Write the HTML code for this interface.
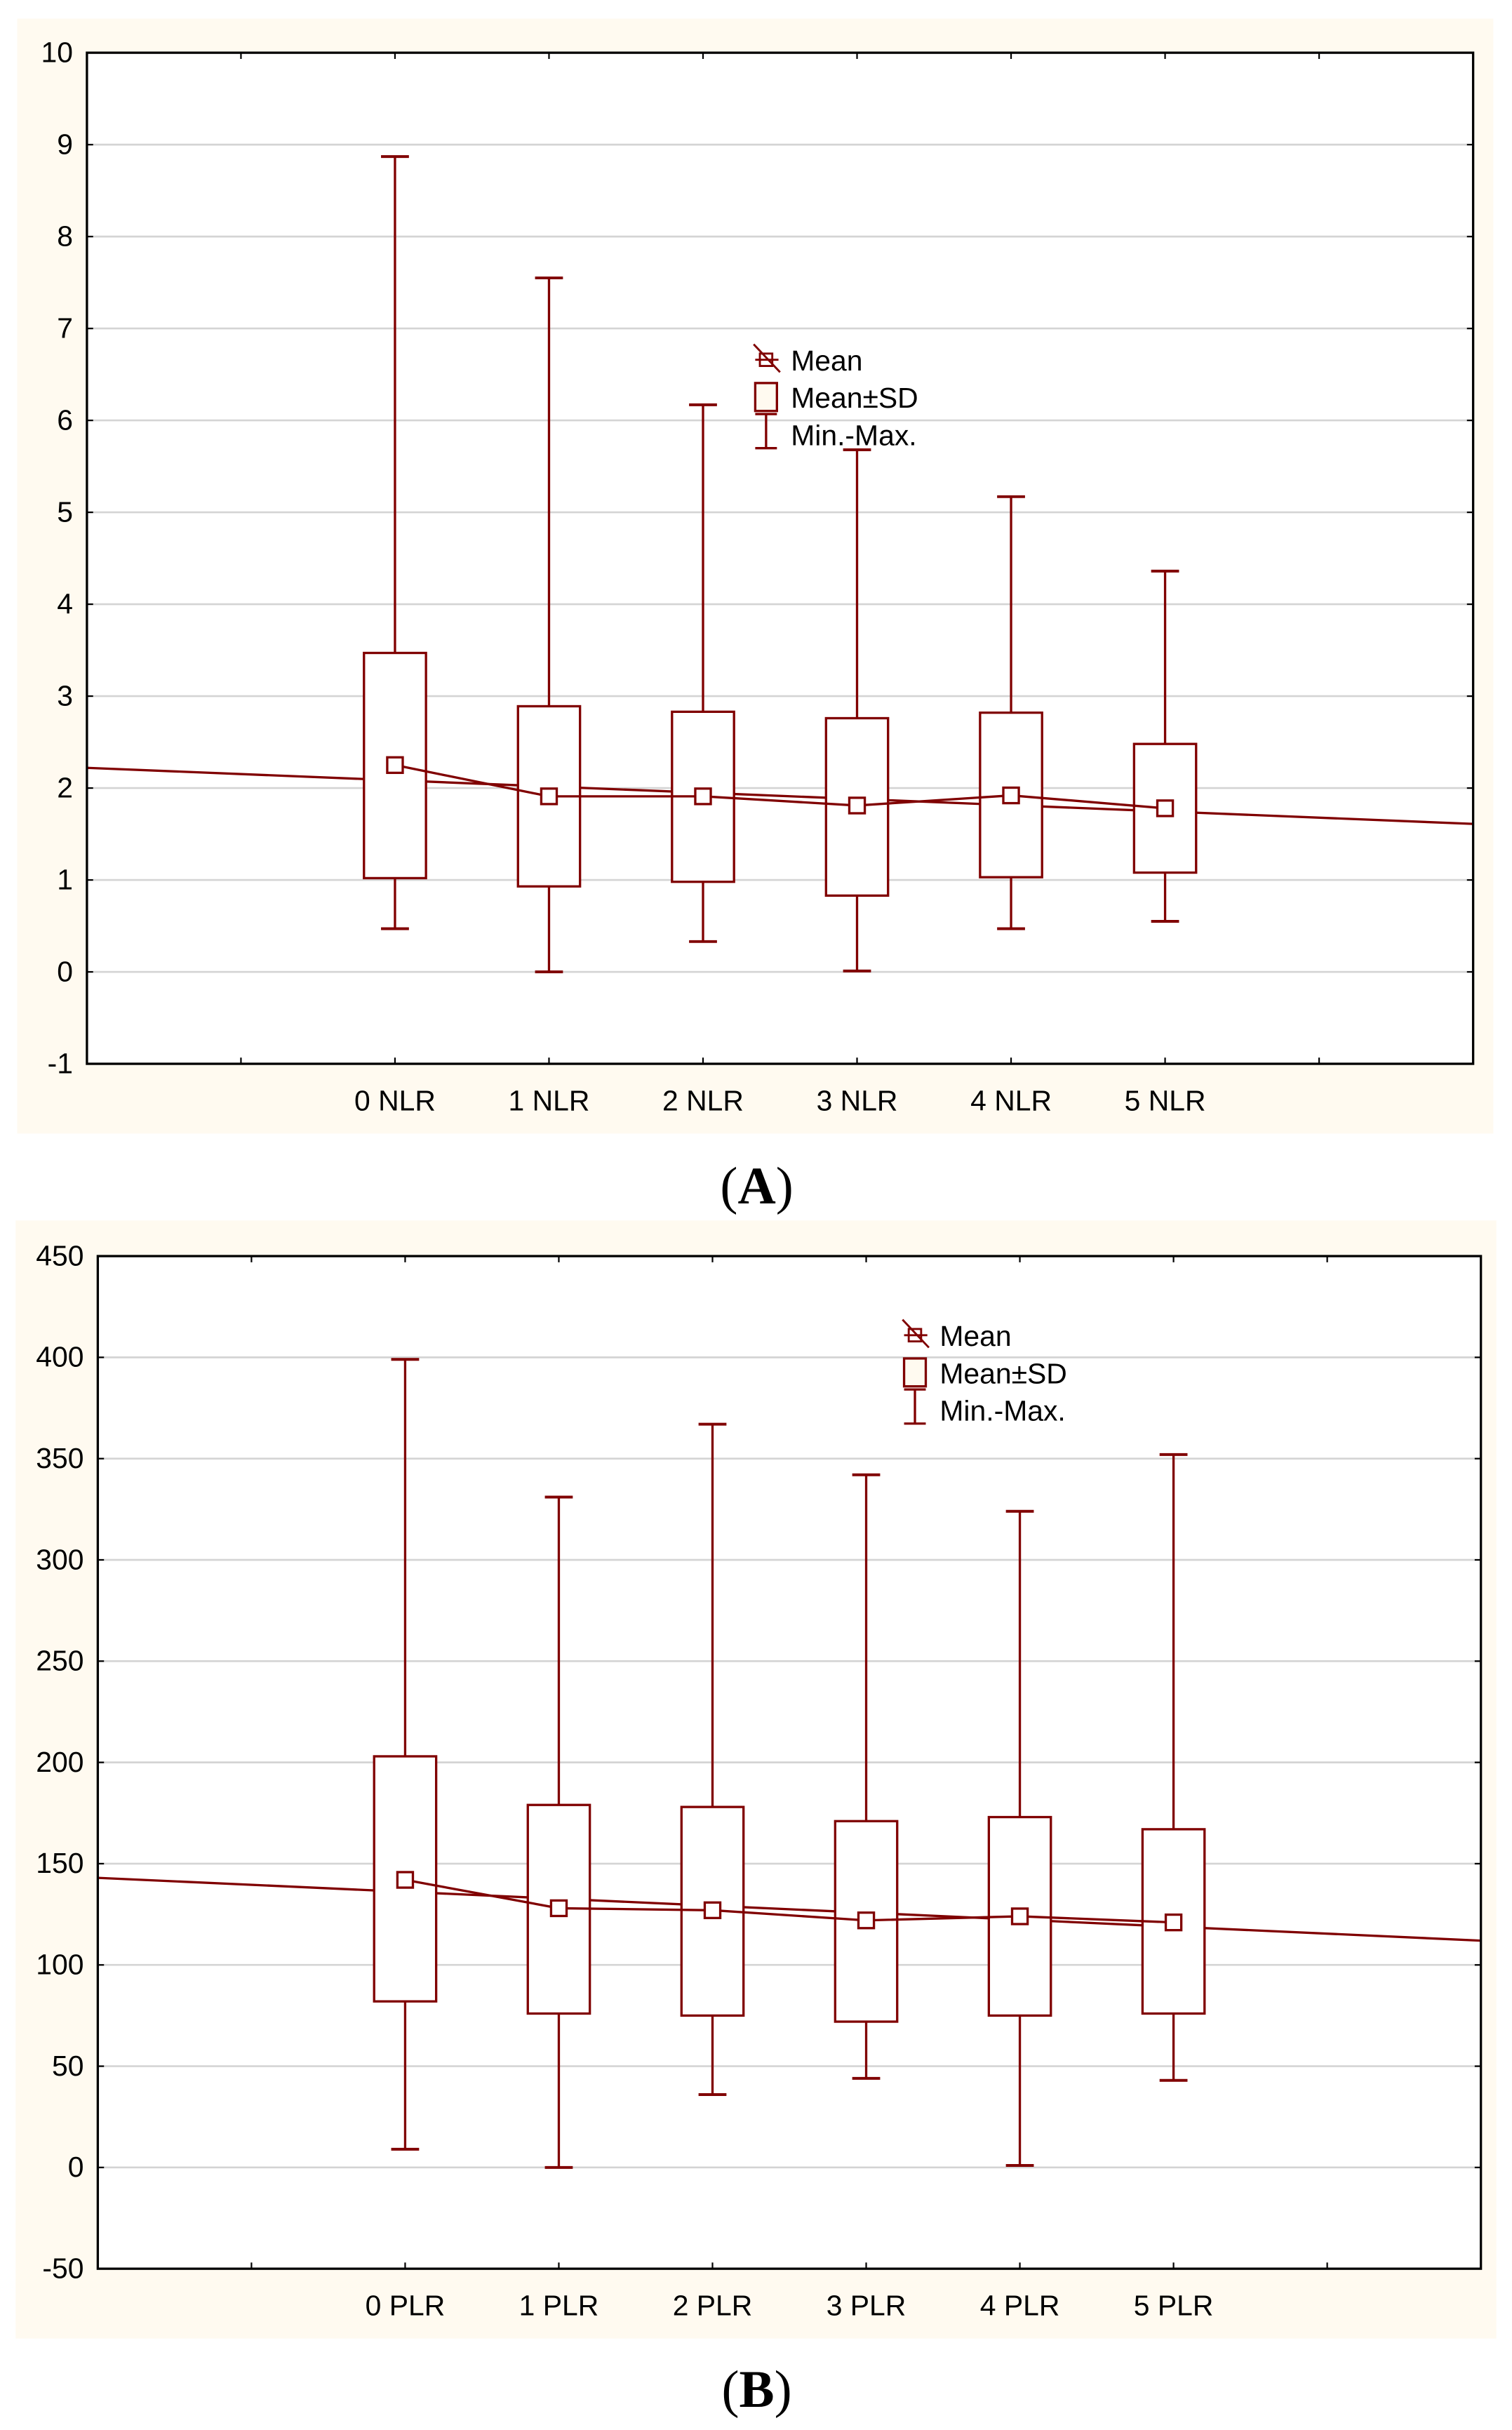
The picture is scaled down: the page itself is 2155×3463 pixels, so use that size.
<!DOCTYPE html>
<html><head><meta charset="utf-8"><style>
html,body{margin:0;padding:0;background:#fff;}
svg{display:block;}
text{font-family:"Liberation Sans",Arial,sans-serif;}
</style></head><body>
<svg id="fig" width="2155" height="3463" viewBox="0 0 975 1567" xmlns="http://www.w3.org/2000/svg"></svg>
<script>
// Chart A data (NLR)
const catsA = ["0 NLR","1 NLR","2 NLR","3 NLR","4 NLR","5 NLR"];
const maxA = [8.87,7.55,6.17,5.68,5.17,4.36];
const minA = [0.47,0.0,0.33,0.01,0.47,0.55];
const upA = [3.47,2.89,2.83,2.76,2.82,2.48];
const loA = [1.02,0.93,0.98,0.83,1.03,1.08];
const meanA = [2.25,1.91,1.91,1.81,1.92,1.78];
const regA = [2.22,1.61];
const ticksA = [10,9,8,7,6,5,4,3,2,1,0,-1];
// Chart B data (PLR)
const catsB = ["0 PLR","1 PLR","2 PLR","3 PLR","4 PLR","5 PLR"];
const maxB = [399,331,367,342,324,352];
const minB = [9,0,36,44,1,43];
const upB = [203,179,178,171,173,167];
const loB = [82,76,75,72,75,76];
const meanB = [142,128,127,122,124,121];
const regB = [143,112];
const ticksB = [450,400,350,300,250,200,150,100,50,0,-50];

const NS="http://www.w3.org/2000/svg";
const svg=document.getElementById('fig');
const RED="#800000";
const FS=18.5;
function mk(tag,attrs,parent){const e=document.createElementNS(NS,tag);for(const k in attrs)e.setAttribute(k,attrs[k]);(parent||svg).appendChild(e);return e;}

function chart(o){
  const g=mk('g',{});
  
  
  const bg=mk('rect',{x:o.px,y:o.py,width:o.pw,height:o.ph,fill:'#fffaf0'},g);
  
  
  const L=o.L,R=o.R,T=o.T,B=o.B;
  const ymin=o.ticks[o.ticks.length-1],ymax=o.ticks[0];
  const y=v=>B-(v-ymin)/(ymax-ymin)*(B-T);
  const x=i=>L+(i+2)/9*(R-L);
  mk('rect',{x:L,y:T,width:R-L,height:B-T,fill:'#fff'},g);
  o.ticks.forEach(t=>{
    if(t!==ymin&&t!==ymax){const gl=mk('line',{x1:L,x2:R,y1:y(t),y2:y(t),stroke:'#d4d4d4','stroke-width':1.2},g);
      }
    mk('line',{x1:L,x2:L+4,y1:y(t),y2:y(t),stroke:'#000','stroke-width':1},g);
    mk('line',{x1:R,x2:R-4,y1:y(t),y2:y(t),stroke:'#000','stroke-width':1},g);
    const tl=mk('text',{x:L-9,y:y(t)+6,'text-anchor':'end','font-size':FS,fill:'#000'},g);
    tl.textContent=t;
    
  });
  for(let i=-1;i<=6;i++){mk('line',{x1:x(i),x2:x(i),y1:B,y2:B-4,stroke:'#000','stroke-width':1},g);mk('line',{x1:x(i),x2:x(i),y1:T,y2:T+4,stroke:'#000','stroke-width':1},g);}
  const rl=mk('line',{x1:L,y1:y(o.reg[0]),x2:R,y2:y(o.reg[1]),stroke:RED,'stroke-width':1.5},g);
  
  const hw=20;
  o.cats.forEach((c,i)=>{
    const cx=x(i);
    const w=mk('g',{},g);
    
    mk('line',{x1:cx,x2:cx,y1:y(o.max[i]),y2:y(o.up[i]),stroke:RED,'stroke-width':1.5},w);
    mk('line',{x1:cx,x2:cx,y1:y(o.lo[i]),y2:y(o.min[i]),stroke:RED,'stroke-width':1.5},w);
    mk('line',{x1:cx-9,x2:cx+9,y1:y(o.max[i]),y2:y(o.max[i]),stroke:RED,'stroke-width':1.8},w);
    mk('line',{x1:cx-9,x2:cx+9,y1:y(o.min[i]),y2:y(o.min[i]),stroke:RED,'stroke-width':1.8},w);
    mk('rect',{x:cx-hw,y:y(o.up[i]),width:2*hw,height:y(o.lo[i])-y(o.up[i]),fill:'#fff',stroke:RED,'stroke-width':1.5},w);
    const lb=mk('text',{x:cx,y:B+30,'text-anchor':'middle','font-size':FS,fill:'#000'},g);
    lb.textContent=c;
    
  });
  const pts=o.mean.map((m,i)=>x(i)+','+y(m)).join(' ');
  const ml=mk('polyline',{points:pts,fill:'none',stroke:RED,'stroke-width':1.5},g);
  
  o.mean.forEach((m,i)=>{const s=mk('rect',{x:x(i)-5,y:y(m)-5,width:10,height:10,fill:'#fff',stroke:RED,'stroke-width':1.5},g);
    });
  mk('rect',{x:L,y:T,width:R-L,height:B-T,fill:'none',stroke:'#000','stroke-width':1.5},g);
  const lg=mk('g',{},g);
  
  const lx=o.lx,ly=o.ly;
  mk('line',{x1:lx-8,y1:ly-10,x2:lx+9,y2:ly+8,stroke:RED,'stroke-width':1.3},lg);
  mk('line',{x1:lx-7,y1:ly,x2:lx+8,y2:ly,stroke:RED,'stroke-width':1.3},lg);
  mk('rect',{x:lx-4,y:ly-4,width:8,height:8,fill:'none',stroke:RED,'stroke-width':1.3},lg);
  mk('rect',{x:lx-7,y:ly+15,width:14,height:18,fill:'#fffaf0',stroke:RED,'stroke-width':1.5},lg);
  mk('line',{x1:lx-7,x2:lx+7,y1:ly+35,y2:ly+35,stroke:RED,'stroke-width':1.5},lg);
  mk('line',{x1:lx-7,x2:lx+7,y1:ly+57,y2:ly+57,stroke:RED,'stroke-width':1.5},lg);
  mk('line',{x1:lx,x2:lx,y1:ly+35,y2:ly+57,stroke:RED,'stroke-width':1.5},lg);
  ['Mean','Mean±SD','Min.-Max.'].forEach((t,k)=>{const e=mk('text',{x:lx+16,y:ly+7+k*24,'font-size':FS,fill:'#000'},lg);e.textContent=t;
    });
  const cap=mk('text',{x:488,y:o.capY,'text-anchor':'middle','font-size':34,fill:'#000',style:'font-family:"Liberation Serif",serif'},svg);
  cap.innerHTML='(<tspan font-weight="bold">'+o.cap+'</tspan>)';
  
}
chart({name:'chart-nlr',px:11,py:12,pw:952,ph:719,L:56,R:950,T:34,B:686,ticks:ticksA,cats:catsA,max:maxA,min:minA,up:upA,lo:loA,mean:meanA,reg:regA,lx:494,ly:232,capY:776,cap:'A'});
chart({name:'chart-plr',px:10,py:787,pw:955,ph:721,L:63,R:955,T:810,B:1463,ticks:ticksB,cats:catsB,max:maxB,min:minB,up:upB,lo:loB,mean:meanB,reg:regB,lx:590,ly:861,capY:1552,cap:'B'});
</script>
</body></html>
